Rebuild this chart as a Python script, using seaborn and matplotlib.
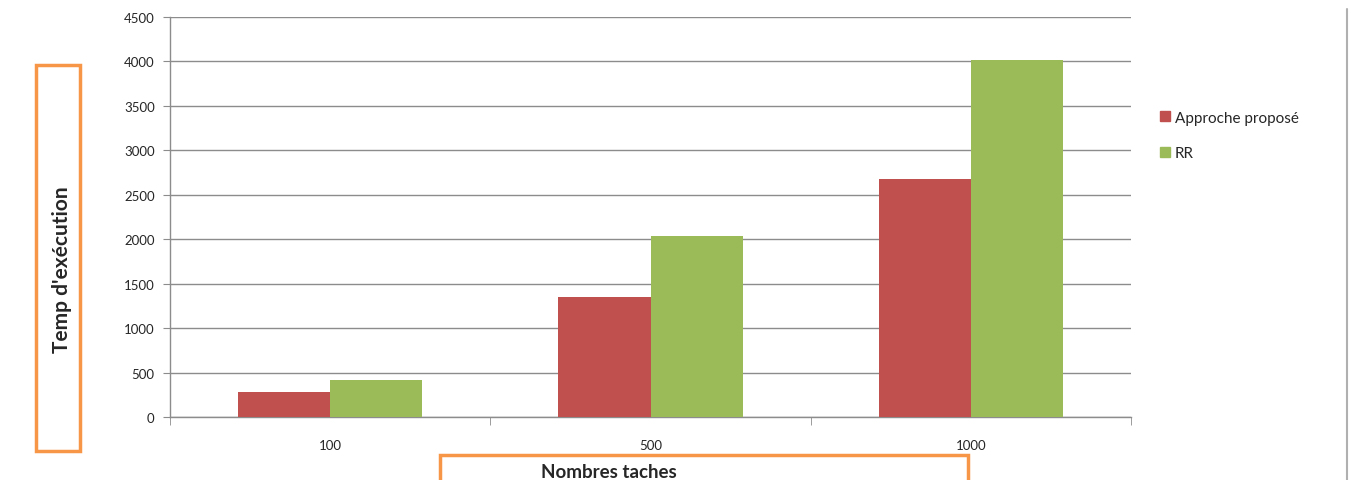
import matplotlib
matplotlib.use("Agg")
import matplotlib.pyplot as plt
import seaborn as sns
import pandas as pd
from matplotlib.patches import Rectangle
from matplotlib.lines import Line2D

categories = ["100", "500", "1000"]
approche_propose = [280, 1350, 2680]
rr = [420, 2040, 4020]
series_names = ["Approche proposé", "RR"]
colors = ["#C0504D", "#9BBB59"]

df = pd.DataFrame({
    "cat": categories * 2,
    "val": approche_propose + rr,
    "serie": [series_names[0]] * 3 + [series_names[1]] * 3,
})

sns.set_style("white")
plt.rcParams["font.family"] = ["Lato", "DejaVu Sans"]

W, H = 1352, 481
fig = plt.figure(figsize=(W / 100, H / 100), dpi=100)
ax = fig.add_axes([170 / W, 63 / H, 961 / W, 400 / H])

sns.barplot(data=df, x="cat", y="val", hue="serie", palette=colors,
            width=0.575, gap=0, saturation=1, ax=ax, legend=False,
            linewidth=0, edgecolor="none", zorder=3)

ax.set_ylim(0, 4500)
ax.set_xlim(-0.5, 2.5)
ax.set_yticks(range(0, 4501, 500))
ax.yaxis.grid(True, color="#8c8c8c", lw=1, zorder=0)
ax.set_axisbelow(True)
for s in ["top", "right"]:
    ax.spines[s].set_visible(False)
for s in ["left", "bottom"]:
    ax.spines[s].set_color("#8c8c8c")
    ax.spines[s].set_linewidth(1)
ax.set_xlabel("")
ax.set_ylabel("")
ax.tick_params(axis="y", length=5, color="#8c8c8c", labelsize=9.5, pad=6, left=True)
ax.tick_params(axis="x", which="major", length=0, labelsize=9.5, pad=16)
ax.set_xticks([-0.5, 0.5, 1.5, 2.5], minor=True)
ax.tick_params(axis="x", which="minor", length=6, color="#8c8c8c", bottom=True, direction="out")

# legend
handles = [Rectangle((0, 0), 1, 1, color=c) for c in colors]
fig.legend(handles, series_names, loc="upper left",
           bbox_to_anchor=(1146 / W, 1 - 98 / H), frameon=False,
           handlelength=0.65, handleheight=0.65, handletextpad=0.35,
           labelspacing=1.4, fontsize=11)

# axis titles with orange boxes
orange = "#F79646"
fig.patches.append(Rectangle((36 / W, 1 - 452 / H), 44 / W, 386 / H,
                             transform=fig.transFigure, fill=False,
                             edgecolor=orange, lw=2.5))
fig.patches.append(Rectangle((440 / W, 1 - 490 / H), 528 / W, 34 / H,
                             transform=fig.transFigure, fill=False,
                             edgecolor=orange, lw=2.5, clip_on=False))
fig.text(62 / W, 1 - 270 / H, "Temp d'exécution", rotation=90,
         ha="center", va="center", fontsize=15, fontweight="bold")
fig.text(609 / W, 1 - 473 / H, "Nombres taches",
         ha="center", va="center", fontsize=13.5, fontweight="bold")

# right edge line
fig.add_artist(Line2D([1347 / W, 1347 / W], [0, 1 - 10 / H],
                      transform=fig.transFigure, color="#b0b0b0", lw=1.5))

fig.savefig("out.png", dpi=100)
